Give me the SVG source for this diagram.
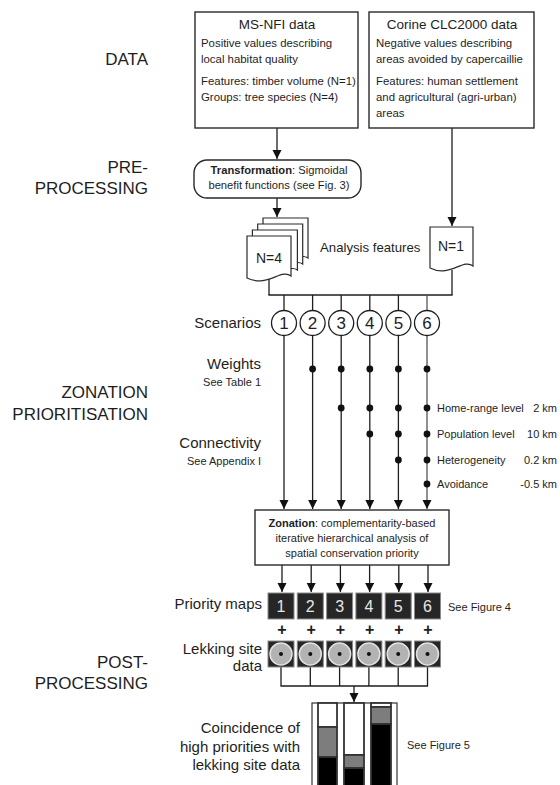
<svg xmlns="http://www.w3.org/2000/svg" width="560" height="785" viewBox="0 0 560 785">
<defs>
<style>
text{font-family:"Liberation Sans",Arial,sans-serif;fill:#1e1e1e}
.ln{stroke:#1e1e1e;stroke-width:1.3;fill:none}
.box{fill:#fff;stroke:#2a2a2a;stroke-width:1.4}
.doc{fill:#fff;stroke:#2a2a2a;stroke-width:1.2}
.big{font-size:17px}
.mid{font-size:15px}
.sm{font-size:11px}
.bt{font-size:11.4px}
.dot{fill:#111}
.pm{fill:#262626;stroke:#8a8a8a;stroke-width:1}
.pmn{font-size:16px;fill:#e6e6e6;text-anchor:middle}
.plus{font-size:16px;font-weight:bold;text-anchor:middle}
.lek{fill:#b3b3b3;stroke:#e2e2e2;stroke-width:1.5}
.bar{stroke:#333;stroke-width:1.8}
</style>
<marker id="ah" markerUnits="userSpaceOnUse" markerWidth="10" markerHeight="10" refX="9" refY="4.5" orient="auto">
<path d="M0,0 L9,4.5 L0,9 z" fill="#111"/>
</marker>
</defs>
<rect width="560" height="785" fill="#fff"/>

<g id="stage-labels" class="big" text-anchor="end">
<text x="148" y="65">DATA</text>
<text x="148" y="173">PRE-</text>
<text x="148" y="194">PROCESSING</text>
<text x="148" y="398">ZONATION</text>
<text x="148" y="420">PRIORITISATION</text>
<text x="148" y="668">POST-</text>
<text x="148" y="689">PROCESSING</text>
</g>

<g id="connectors">
<line class="ln" x1="277" y1="128" x2="277" y2="159" marker-end="url(#ah)"/>
<line class="ln" x1="452" y1="128" x2="452" y2="226" marker-end="url(#ah)"/>
<line class="ln" x1="277" y1="198" x2="277" y2="217" marker-end="url(#ah)"/>
<line class="ln" x1="269" y1="279" x2="269" y2="295"/>
<line class="ln" x1="452" y1="270" x2="452" y2="295"/>
<line class="ln" x1="268.4" y1="295" x2="452.6" y2="295"/>
<line class="ln" x1="284" y1="295" x2="284" y2="310.5"/>
<line class="ln" x1="312.6" y1="295" x2="312.6" y2="310.5"/>
<line class="ln" x1="341.2" y1="295" x2="341.2" y2="310.5"/>
<line class="ln" x1="369.8" y1="295" x2="369.8" y2="310.5"/>
<line class="ln" x1="398.4" y1="295" x2="398.4" y2="310.5"/>
<line class="ln" x1="427" y1="295" x2="427" y2="310.5" style="stroke:#555"/>
<line class="ln" x1="284" y1="335.5" x2="284" y2="509" marker-end="url(#ah)"/>
<line class="ln" x1="312.6" y1="335.5" x2="312.6" y2="509" marker-end="url(#ah)"/>
<line class="ln" x1="341.2" y1="335.5" x2="341.2" y2="509" marker-end="url(#ah)"/>
<line class="ln" x1="369.8" y1="335.5" x2="369.8" y2="509" marker-end="url(#ah)"/>
<line class="ln" x1="398.4" y1="335.5" x2="398.4" y2="509" marker-end="url(#ah)"/>
<line class="ln" x1="427" y1="335.5" x2="427" y2="509" marker-end="url(#ah)" style="stroke:#555"/>
<line class="ln" x1="282" y1="565" x2="282" y2="592" marker-end="url(#ah)"/>
<line class="ln" x1="311.2" y1="565" x2="311.2" y2="592" marker-end="url(#ah)"/>
<line class="ln" x1="340.4" y1="565" x2="340.4" y2="592" marker-end="url(#ah)"/>
<line class="ln" x1="369.6" y1="565" x2="369.6" y2="592" marker-end="url(#ah)"/>
<line class="ln" x1="398.8" y1="565" x2="398.8" y2="592" marker-end="url(#ah)"/>
<line class="ln" x1="428" y1="565" x2="428" y2="592" marker-end="url(#ah)"/>
<path class="ln" d="M281,667 V686 M310.3,667 V686 M339.6,667 V686 M368.9,667 V686 M398.2,667 V686 M427.5,667 V686 M280.4,686 H428.1"/>
<line class="ln" x1="354" y1="686" x2="354" y2="702" marker-end="url(#ah)"/>
</g>

<g id="msnfi">
<rect class="box" x="195" y="12" width="163" height="116"/>
<text x="277" y="29" font-size="13.5" text-anchor="middle">MS-NFI data</text>
<text class="bt" x="201" y="47">Positive values describing</text>
<text class="bt" x="201" y="63">local habitat quality</text>
<text class="bt" x="201" y="85">Features: timber volume (N=1)</text>
<text class="bt" x="201" y="101">Groups: tree species (N=4)</text>
</g>

<g id="corine">
<rect class="box" x="369" y="12" width="165" height="116"/>
<text x="452" y="29" font-size="13.5" text-anchor="middle">Corine CLC2000 data</text>
<text class="bt" x="376" y="47">Negative values describing</text>
<text class="bt" x="376" y="63">areas avoided by capercaillie</text>
<text class="bt" x="376" y="85">Features: human settlement</text>
<text class="bt" x="376" y="101">and agricultural (agri-urban)</text>
<text class="bt" x="376" y="117">areas</text>
</g>

<g id="transformation">
<rect class="box" x="194" y="160" width="167" height="38" rx="13" ry="13"/>
<text x="279" y="174" font-size="11.2" text-anchor="middle"><tspan font-weight="bold">Transformation</tspan>: Sigmoidal</text>
<text x="279" y="189" font-size="11.2" text-anchor="middle">benefit functions (see Fig. 3)</text>
</g>

<g id="features-n4">
<path class="doc" d="M263,218 H308 V258 C300,252 287,266 263,262 Z"/>
<path class="doc" d="M257.7,224 H302.7 V264 C294.7,258 281.7,272 257.7,268 Z"/>
<path class="doc" d="M252.4,230 H297.4 V270 C289.4,264 276.4,278 252.4,274 Z"/>
<path class="doc" d="M247,236 H291 V276 C281,268 268,288 247,278 Z"/>
<text x="269" y="263" font-size="14" text-anchor="middle">N=4</text>
</g>

<text id="analysis-label" x="320" y="252" font-size="13.2">Analysis features</text>

<g id="features-n1">
<path class="doc" d="M430,227 H473 V266 C463,258 450,278 430,268 Z"/>
<text x="451" y="251" font-size="14" text-anchor="middle">N=1</text>
</g>

<g id="scenarios">
<text class="mid" x="261" y="328" text-anchor="end">Scenarios</text>
<g fill="#fff" stroke="#1e1e1e" stroke-width="1.3">
<circle cx="284" cy="323" r="12.5"/>
<circle cx="312.6" cy="323" r="12.5"/>
<circle cx="341.2" cy="323" r="12.5"/>
<circle cx="369.8" cy="323" r="12.5"/>
<circle cx="398.4" cy="323" r="12.5"/>
<circle cx="427" cy="323" r="12.5"/>
</g>
<g font-size="17" text-anchor="middle">
<text x="284" y="329">1</text>
<text x="312.6" y="329">2</text>
<text x="341.2" y="329">3</text>
<text x="369.8" y="329">4</text>
<text x="398.4" y="329">5</text>
<text x="427" y="329">6</text>
</g>
</g>

<g id="weights">
<text class="mid" x="261" y="369" text-anchor="end">Weights</text>
<text class="sm" x="261" y="386" text-anchor="end">See Table 1</text>
<circle class="dot" cx="312.6" cy="369" r="3.4"/>
<circle class="dot" cx="341.2" cy="369" r="3.4"/>
<circle class="dot" cx="369.8" cy="369" r="3.4"/>
<circle class="dot" cx="398.4" cy="369" r="3.4"/>
<circle class="dot" cx="427" cy="369" r="3.4"/>
</g>

<g id="connectivity">
<text class="mid" x="261" y="448" text-anchor="end">Connectivity</text>
<text class="sm" x="261" y="465" text-anchor="end">See Appendix I</text>
<circle class="dot" cx="341.2" cy="408" r="3.4"/>
<circle class="dot" cx="369.8" cy="408" r="3.4"/>
<circle class="dot" cx="398.4" cy="408" r="3.4"/>
<circle class="dot" cx="427" cy="408" r="3.4"/>
<circle class="dot" cx="369.8" cy="434" r="3.4"/>
<circle class="dot" cx="398.4" cy="434" r="3.4"/>
<circle class="dot" cx="427" cy="434" r="3.4"/>
<circle class="dot" cx="398.4" cy="460" r="3.4"/>
<circle class="dot" cx="427" cy="460" r="3.4"/>
<circle class="dot" cx="427" cy="484" r="3.4"/>
<g font-size="11">
<text x="437" y="412">Home-range level</text>
<text x="437" y="438">Population level</text>
<text x="437" y="464">Heterogeneity</text>
<text x="437" y="488">Avoidance</text>
<g text-anchor="end">
<text x="557" y="412">2 km</text>
<text x="557" y="438">10 km</text>
<text x="557" y="464">0.2 km</text>
<text x="557" y="488">-0.5 km</text>
</g>
</g>
</g>

<g id="zonation">
<rect class="box" x="255" y="510" width="194" height="55"/>
<g font-size="11" text-anchor="middle">
<text x="352" y="527"><tspan font-weight="bold">Zonation</tspan>: complementarity-based</text>
<text x="352" y="542">iterative hierarchical analysis of</text>
<text x="352" y="557">spatial conservation priority</text>
</g>
</g>

<g id="priority-maps">
<text class="mid" x="262" y="609" text-anchor="end">Priority maps</text>
<rect class="pm" x="268" y="593" width="26" height="26"/>
<rect class="pm" x="297.3" y="593" width="26" height="26"/>
<rect class="pm" x="326.6" y="593" width="26" height="26"/>
<rect class="pm" x="355.9" y="593" width="26" height="26"/>
<rect class="pm" x="385.2" y="593" width="26" height="26"/>
<rect class="pm" x="414.5" y="593" width="26" height="26"/>
<text class="pmn" x="281" y="612">1</text>
<text class="pmn" x="310.3" y="612">2</text>
<text class="pmn" x="339.6" y="612">3</text>
<text class="pmn" x="368.9" y="612">4</text>
<text class="pmn" x="398.2" y="612">5</text>
<text class="pmn" x="427.5" y="612">6</text>
<text class="sm" x="448" y="611">See Figure 4</text>
</g>

<g id="plus-signs">
<text class="plus" x="282" y="635">+</text>
<text class="plus" x="311.2" y="635">+</text>
<text class="plus" x="340.4" y="635">+</text>
<text class="plus" x="369.6" y="635">+</text>
<text class="plus" x="398.8" y="635">+</text>
<text class="plus" x="428" y="635">+</text>
</g>

<g id="lekking">
<text class="mid" x="262" y="654" text-anchor="end">Lekking site</text>
<text class="mid" x="262" y="671" text-anchor="end">data</text>
<rect class="pm" x="268" y="641" width="26" height="26"/>
<rect class="pm" x="297.3" y="641" width="26" height="26"/>
<rect class="pm" x="326.6" y="641" width="26" height="26"/>
<rect class="pm" x="355.9" y="641" width="26" height="26"/>
<rect class="pm" x="385.2" y="641" width="26" height="26"/>
<rect class="pm" x="414.5" y="641" width="26" height="26"/>
<circle class="lek" cx="281" cy="654" r="11"/>
<circle class="lek" cx="310.3" cy="654" r="11"/>
<circle class="lek" cx="339.6" cy="654" r="11"/>
<circle class="lek" cx="368.9" cy="654" r="11"/>
<circle class="lek" cx="398.2" cy="654" r="11"/>
<circle class="lek" cx="427.5" cy="654" r="11"/>
<g class="dot">
<circle cx="281" cy="654" r="2"/>
<circle cx="310.3" cy="654" r="2"/>
<circle cx="339.6" cy="654" r="2"/>
<circle cx="368.9" cy="654" r="2"/>
<circle cx="398.2" cy="654" r="2"/>
<circle cx="427.5" cy="654" r="2"/>
</g>
</g>

<g id="coincidence">
<text class="mid" x="300" y="733" text-anchor="end">Coincidence of</text>
<text class="mid" x="300" y="752" text-anchor="end">high priorities with</text>
<text class="mid" x="300" y="770" text-anchor="end">lekking site data</text>
<rect x="312" y="703" width="85" height="95" fill="#fff" stroke="#333" stroke-width="1.2"/>
<rect x="318" y="703" width="19" height="24" fill="#fff" class="bar"/>
<rect x="318" y="727" width="19" height="30" fill="#7d7d7d" class="bar"/>
<rect x="318" y="757" width="19" height="40" fill="#000" class="bar"/>
<rect x="344" y="703" width="20" height="52" fill="#fff" class="bar"/>
<rect x="344" y="755" width="20" height="13" fill="#7d7d7d" class="bar"/>
<rect x="344" y="768" width="20" height="30" fill="#000" class="bar"/>
<rect x="371" y="703" width="20" height="4" fill="#fff" class="bar"/>
<rect x="371" y="707" width="20" height="17" fill="#7d7d7d" class="bar"/>
<rect x="371" y="724" width="20" height="74" fill="#000" class="bar"/>
<text class="sm" x="407" y="749">See Figure 5</text>
</g>
</svg>
